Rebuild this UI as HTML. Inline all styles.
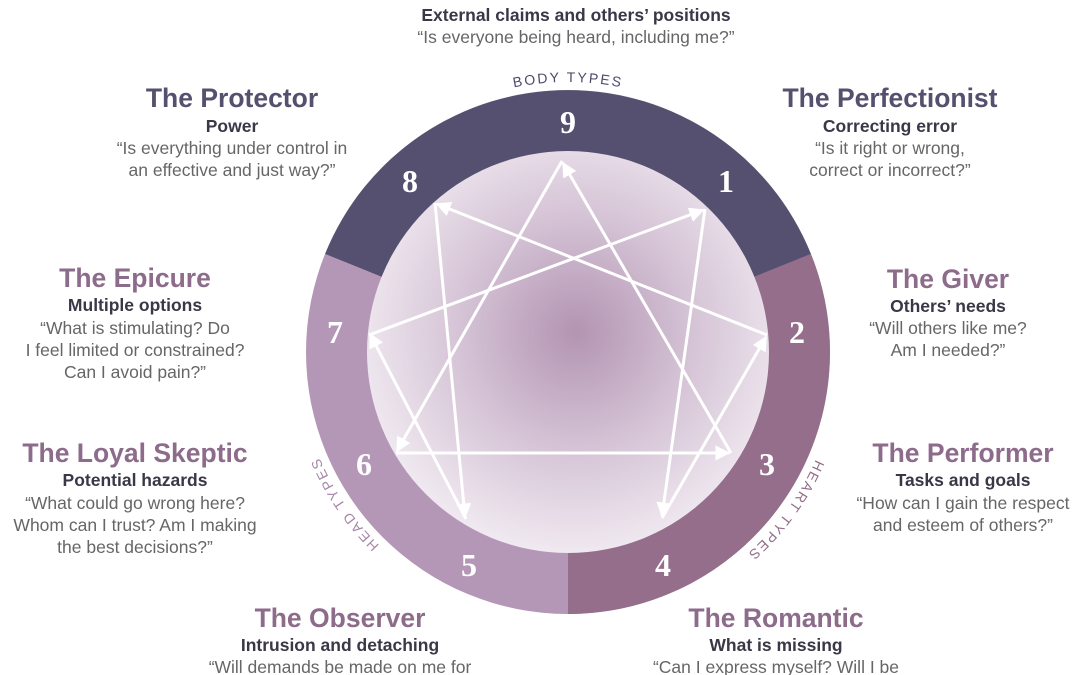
<!DOCTYPE html>
<html><head><meta charset="utf-8"><style>
html,body{margin:0;padding:0;background:#fff;width:1080px;height:675px;overflow:hidden}
svg{display:block}
.t{font-family:"Liberation Sans",sans-serif;font-size:26.5px;font-weight:bold;text-anchor:middle}
.s{font-family:"Liberation Sans",sans-serif;font-size:17.5px;font-weight:bold;fill:#3a3747;text-anchor:middle}
.q{font-family:"Liberation Sans",sans-serif;font-size:17.5px;fill:#666;text-anchor:middle}
.n{font-family:"Liberation Serif",serif;font-size:32px;font-weight:bold;fill:#fff;text-anchor:middle;dominant-baseline:central}
.r{font-family:"Liberation Sans",sans-serif;font-size:14px;letter-spacing:2px;text-anchor:middle}
</style></head><body>
<svg width="1080" height="675" viewBox="0 0 1080 675" xmlns="http://www.w3.org/2000/svg">
<defs>
<radialGradient id="g" cx="0.52" cy="0.45" r="0.6">
<stop offset="0" stop-color="#b394b2"/>
<stop offset="0.5" stop-color="#d6c5d7"/>
<stop offset="1" stop-color="#f5f0f5"/>
</radialGradient>
<marker id="a" viewBox="0 0 10 10" refX="9" refY="5" markerWidth="5" markerHeight="5" orient="auto" markerUnits="strokeWidth">
<path d="M0,0 L10,5 L0,10 z" fill="#fff"/>
</marker>
<path id="cp" d="M568,622 A270,270 0 1,1 568.01,622"/>
</defs>
<circle cx="568" cy="352" r="262" fill="#b497b6"/>
<path d="M568,352 L810.9,253.9 A262,262 0 0,1 568,614 Z" fill="#946e8a"/>
<path d="M568,352 L325.1,253.9 A262,262 0 0,1 810.9,253.9 Z" fill="#55506f"/>
<circle cx="568" cy="352" r="201" fill="url(#g)"/>
<text class="r" fill="#4f4a6b"><textPath href="#cp" startOffset="50%">BODY TYPES</textPath></text>
<text class="r" fill="#946e8a"><textPath href="#cp" startOffset="85%">HEART TYPES</textPath></text>
<text class="r" fill="#a886a8"><textPath href="#cp" startOffset="15.5%">HEAD TYPES</textPath></text>
<g stroke="#fff" stroke-width="3" fill="none" marker-end="url(#a)">
<line x1="731" y1="453" x2="563" y2="163"/>
<line x1="562" y1="161" x2="397" y2="451"/>
<line x1="396" y1="453" x2="729" y2="453"/>
<line x1="369" y1="335" x2="703" y2="210"/>
<line x1="705" y1="209" x2="662" y2="516"/>
<line x1="662" y1="518" x2="766" y2="337"/>
<line x1="767" y1="335" x2="437" y2="204"/>
<line x1="435" y1="203" x2="465" y2="517"/>
<line x1="466" y1="519" x2="370" y2="334"/>
</g>
<text class="n" x="568" y="122">9</text>
<text class="n" x="726" y="181">1</text>
<text class="n" x="797" y="332">2</text>
<text class="n" x="767" y="464">3</text>
<text class="n" x="663" y="565">4</text>
<text class="n" x="469" y="565">5</text>
<text class="n" x="364" y="464">6</text>
<text class="n" x="335" y="332">7</text>
<text class="n" x="410" y="181">8</text>

<text class="s" x="576" y="21">External claims and others’ positions</text>
<text class="q" x="576" y="43">“Is everyone being heard, including me?”</text>

<text class="t" x="232" y="107" fill="#54506e">The Protector</text>
<text class="s" x="232" y="132">Power</text>
<text class="q" x="232" y="154">“Is everything under control in</text>
<text class="q" x="232" y="176">an effective and just way?”</text>

<text class="t" x="890" y="107" fill="#54506e">The Perfectionist</text>
<text class="s" x="890" y="132">Correcting error</text>
<text class="q" x="890" y="154">“Is it right or wrong,</text>
<text class="q" x="890" y="176">correct or incorrect?”</text>

<text class="t" x="135" y="287" fill="#8d6b8b">The Epicure</text>
<text class="s" x="135" y="311">Multiple options</text>
<text class="q" x="135" y="334">“What is stimulating? Do</text>
<text class="q" x="135" y="356">I feel limited or constrained?</text>
<text class="q" x="135" y="378">Can I avoid pain?”</text>

<text class="t" x="948" y="288" fill="#8d6b8b">The Giver</text>
<text class="s" x="948" y="312">Others’ needs</text>
<text class="q" x="948" y="334">“Will others like me?</text>
<text class="q" x="948" y="356">Am I needed?”</text>

<text class="t" x="135" y="462" fill="#8d6b8b">The Loyal Skeptic</text>
<text class="s" x="135" y="486">Potential hazards</text>
<text class="q" x="135" y="509">“What could go wrong here?</text>
<text class="q" x="135" y="531">Whom can I trust? Am I making</text>
<text class="q" x="135" y="553">the best decisions?”</text>

<text class="t" x="963" y="462" fill="#8d6b8b">The Performer</text>
<text class="s" x="963" y="486">Tasks and goals</text>
<text class="q" x="963" y="509">“How can I gain the respect</text>
<text class="q" x="963" y="531">and esteem of others?”</text>

<text class="t" x="340" y="627" fill="#8d6b8b">The Observer</text>
<text class="s" x="340" y="651">Intrusion and detaching</text>
<text class="q" x="340" y="673">“Will demands be made on me for</text>

<text class="t" x="776" y="627" fill="#8d6b8b">The Romantic</text>
<text class="s" x="776" y="651">What is missing</text>
<text class="q" x="776" y="673">“Can I express myself? Will I be</text>
</svg>
</body></html>
